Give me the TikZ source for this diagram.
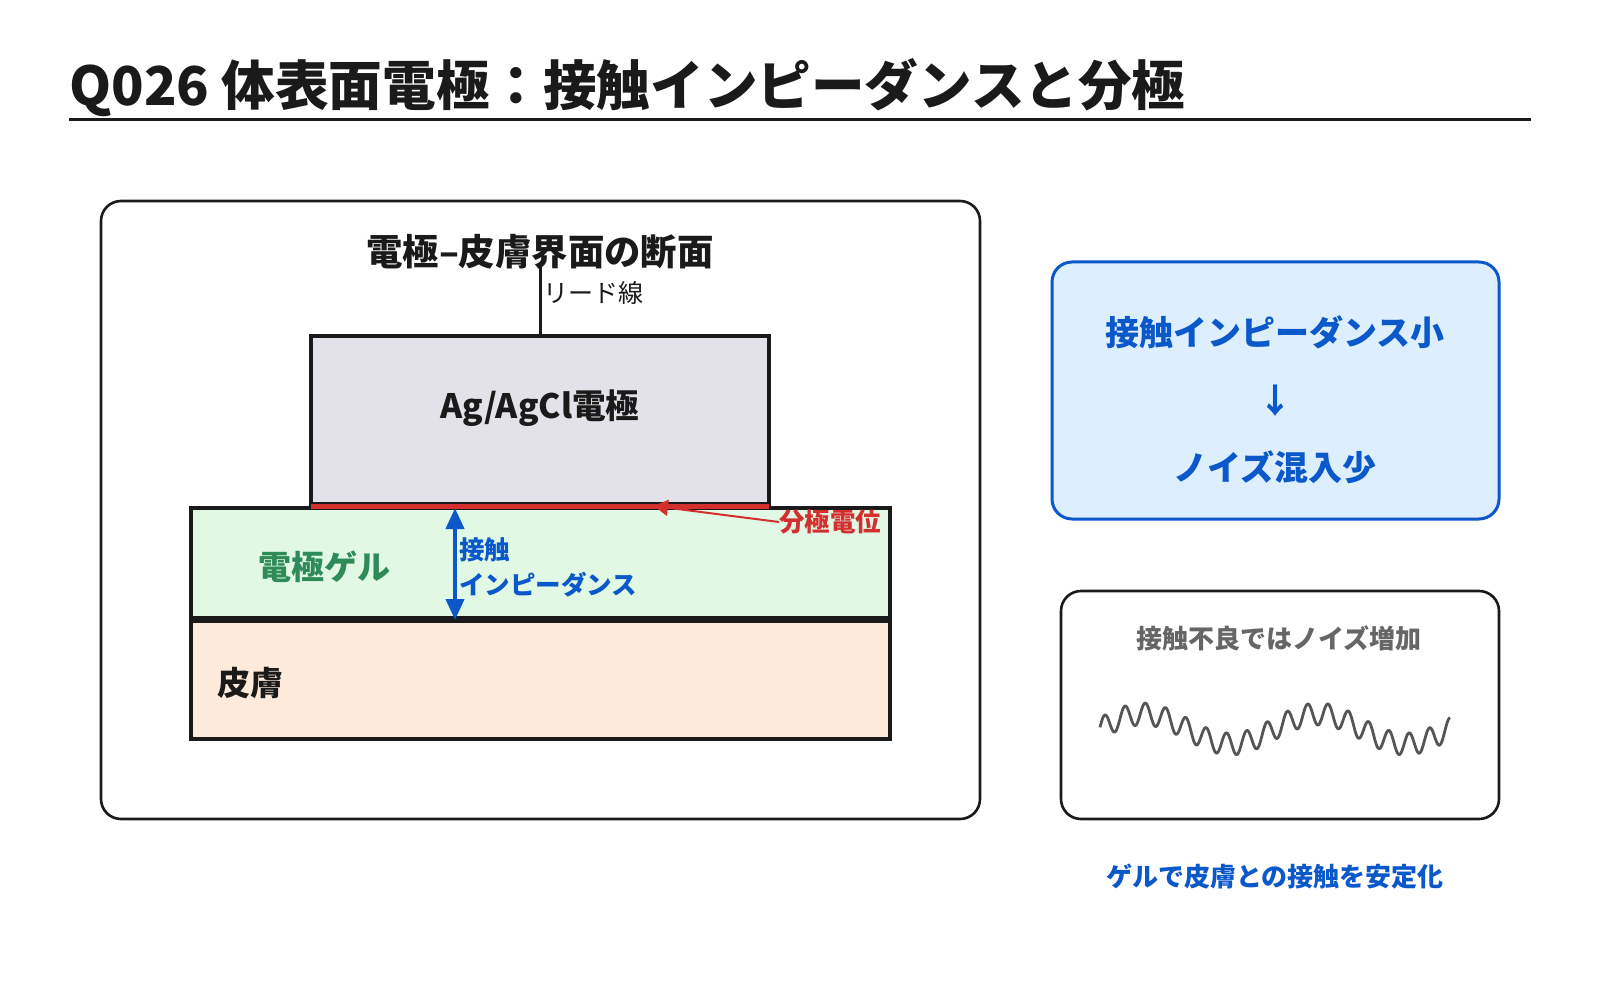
\documentclass[tikz,border=0pt]{standalone}
\usepackage{fontspec}
\setmainfont{Noto Sans CJK JP}
\usetikzlibrary{arrows.meta}
\definecolor{ink}{HTML}{1A1A1A}
\definecolor{bluec}{HTML}{0A58CA}
\definecolor{greenc}{HTML}{2E8B57}
\definecolor{redc}{HTML}{D32F2F}
\definecolor{gelfill}{HTML}{E0F8E4}
\definecolor{skinfill}{HTML}{FDEADB}
\definecolor{elecfill}{HTML}{E2E2E8}
\definecolor{bluefill}{HTML}{DDEEFF}
\definecolor{grayc}{HTML}{666666}
\definecolor{wavec}{HTML}{555555}
\tikzset{
  panel/.style={draw=ink, line width=1.3pt, rounded corners=10pt},
  layer/.style={draw=ink, line width=1.6pt},
  lbl/.style={inner sep=0pt, font=\bfseries},
}
\begin{document}
\begin{tikzpicture}[x=0.5pt,y=-0.5pt]
\useasboundingbox (0,0) rectangle (1600,1000);
\fill[white] (0,0) rectangle (1600,1000);

% title
\node[lbl, anchor=west, text=ink, font=\fontsize{26.8pt}{32pt}\bfseries] (title) at (69,88) {Q026 体表面電極：接触インピーダンスと分極};
\draw[ink, line width=1.5pt] (69,120) -- (1531,120);

% left panel
\draw[panel, fill=white] (101,201) rectangle (980,819);
\node[lbl, text=ink, font=\fontsize{18.2pt}{22pt}\bfseries] (sect) at (540,252) {電極–皮膚界面の断面};

% layers
\draw[layer, fill=skinfill] (191,621) rectangle (890,739);
\draw[layer, fill=gelfill] (191,508) rectangle (890,618);
\draw[layer, fill=elecfill] (311,336) rectangle (769,504);
\coordinate (leadtop) at (540,267);
\coordinate (electop) at (540,336);
\draw[ink, line width=1.5pt] (leadtop) -- (electop);
\node[inner sep=0pt, anchor=west, text=ink, font=\fontsize{12.5pt}{15pt}\selectfont] (lead) at (543,293) {リード線};
\node[lbl, text=ink, font=\fontsize{16.8pt}{20pt}\bfseries] (elec) at (540,408) {Ag/AgCl電極};
\draw[redc, line width=2.6pt] (311,506.5) -- (769,506.5);
\node[lbl, text=greenc, font=\fontsize{16.5pt}{20pt}\bfseries] (gel) at (324,567) {電極ゲル};
\node[lbl, text=ink, font=\fontsize{16.5pt}{20pt}\bfseries] (skin) at (250,683) {皮膚};

% contact impedance arrow
\coordinate (imptop) at (455,508);
\coordinate (impbot) at (455,620);
\draw[bluec, line width=2pt, {Triangle[length=10.5pt,width=9pt]}-{Triangle[length=10.5pt,width=9pt]}] (imptop) -- (impbot);
\node[lbl, anchor=west, text=bluec, font=\fontsize{12.75pt}{15pt}\bfseries] (imp1) at (459,550) {接触};
\node[lbl, anchor=west, text=bluec, font=\fontsize{12.75pt}{15pt}\bfseries] (imp2) at (459,585) {インピーダンス};

% polarization potential
\node[lbl, anchor=west, text=redc, font=\fontsize{12.75pt}{15pt}\bfseries] (pol) at (779,522) {分極電位};
\coordinate (poltip) at (654,506);
\draw[redc, line width=1pt, -{Triangle[length=7pt,width=8pt]}] (pol.west) -- (poltip);

% right top box
\draw[draw=bluec, fill=bluefill, line width=1.5pt, rounded corners=10pt] (1052,262) rectangle (1499,519);
\node[lbl, text=bluec, font=\fontsize{17pt}{20pt}\bfseries] (low) at (1275,332) {接触インピーダンス小};
\node[lbl, text=bluec, font=\fontsize{17pt}{20pt}\bfseries] (arr) at (1275,401) {↓};
\node[lbl, text=bluec, font=\fontsize{17pt}{20pt}\bfseries] (noise) at (1275,467) {ノイズ混入少};

% right bottom box
\draw[panel, fill=white] (1061,591) rectangle (1499,819);
\node[lbl, text=grayc, font=\fontsize{13pt}{16pt}\bfseries] (bad) at (1279,638) {接触不良ではノイズ増加};
\draw[wavec, line width=1.4pt, line join=round] plot[domain=0:350, samples=500, smooth]
  ({1100+\x}, {729 - 15*cos((\x-43)*2.0571) - 11*cos((\x-25)*17.734)});

% footer
\node[lbl, text=bluec, font=\fontsize{13pt}{16pt}\bfseries] (foot) at (1275,877) {ゲルで皮膚との接触を安定化};
\end{tikzpicture}
\end{document}
